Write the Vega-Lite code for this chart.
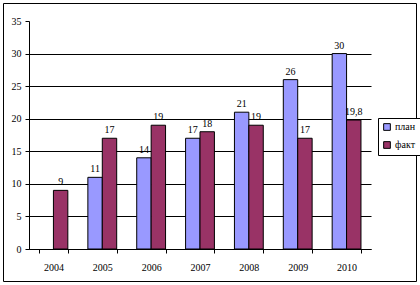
{
  "$schema": "https://vega.github.io/schema/vega-lite/v6.json",
  "autosize": "none",
  "width": 413,
  "height": 278,
  "padding": {"left": 3, "top": 3, "right": 4, "bottom": 4},
  "background": "white",
  "config": {
    "view": {"stroke": "black", "strokeWidth": 1},
    "font": "'Liberation Serif', serif",
    "locale": {"number": {"decimal": ",", "thousands": " ", "grouping": [3], "currency": ["", " ₽"]}}
  },
  "data": {
    "values": [
      {"year": "2004", "series": "факт", "value": 9},
      {"year": "2005", "series": "план", "value": 11},
      {"year": "2005", "series": "факт", "value": 17},
      {"year": "2006", "series": "план", "value": 14},
      {"year": "2006", "series": "факт", "value": 19},
      {"year": "2007", "series": "план", "value": 17},
      {"year": "2007", "series": "факт", "value": 18},
      {"year": "2008", "series": "план", "value": 21},
      {"year": "2008", "series": "факт", "value": 19},
      {"year": "2009", "series": "план", "value": 26},
      {"year": "2009", "series": "факт", "value": 17},
      {"year": "2010", "series": "план", "value": 30},
      {"year": "2010", "series": "факт", "value": 19.8}
    ]
  },
  "encoding": {
    "x": {
      "field": "year", "type": "nominal",
      "scale": {"domain": ["2004","2005","2006","2007","2008","2009","2010"], "range": [26, 368], "paddingInner": 0.41, "paddingOuter": 0.205},
      "axis": {
        "title": null, "labelAngle": 0, "offset": -32,
        "domainColor": "black", "tickColor": "black", "tickSize": 4,
        "tickBand": "extent", "tickExtra": true,
        "labelFont": "'Liberation Serif', serif", "labelFontSize": 10, "labelColor": "black", "labelPadding": 9,
        "grid": false
      }
    },
    "xOffset": {"field": "series", "type": "nominal", "scale": {"domain": ["план", "факт"], "paddingInner": 0, "paddingOuter": 0}},
    "y": {
      "field": "value", "type": "quantitative",
      "scale": {"domain": [0, 35], "range": [246, 18], "nice": false, "zero": true},
      "axis": {
        "title": null, "offset": -26, "values": [0,5,10,15,20,25,30,35],
        "domainColor": "black", "tickColor": "black", "tickSize": 4,
        "labelFont": "'Liberation Serif', serif", "labelFontSize": 10, "labelColor": "black", "labelPadding": 4,
        "grid": true, "gridColor": "black", "gridWidth": 1,
        "gridOpacity": {"condition": {"test": "datum.value >= 35", "value": 0}, "value": 1}
      }
    }
  },
  "layer": [
    {
      "mark": {"type": "bar", "stroke": "black", "strokeWidth": 1},
      "encoding": {
        "color": {
          "field": "series", "type": "nominal",
          "scale": {"domain": ["план", "факт"], "range": ["#9999FF", "#993366"]},
          "legend": {
            "title": null, "orient": "none", "legendX": 375, "legendY": 115,
            "strokeColor": "black", "fillColor": "white", "padding": 4,
            "symbolType": "square", "symbolSize": 45, "symbolStrokeColor": "black", "symbolStrokeWidth": 1,
            "labelFont": "'Liberation Serif', serif", "labelFontSize": 10, "labelColor": "black",
            "rowPadding": 6, "labelOffset": 3
          }
        }
      }
    },
    {
      "mark": {"type": "text", "baseline": "alphabetic", "dy": -5, "fontSize": 10, "font": "'Liberation Serif', serif", "color": "black"},
      "encoding": {
        "text": {"field": "value", "type": "quantitative", "format": "~f"}
      }
    }
  ]
}
